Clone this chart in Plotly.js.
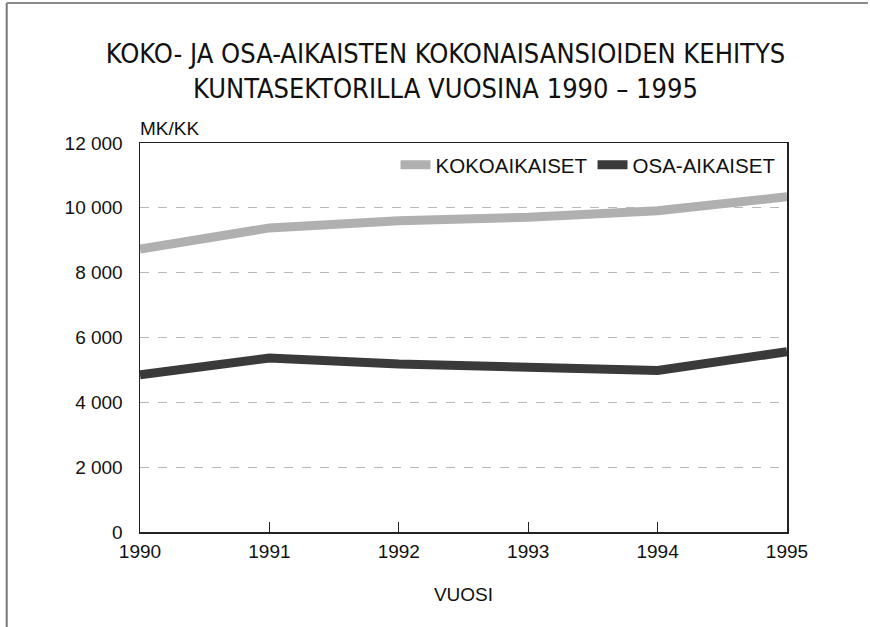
<!DOCTYPE html>
<html>
<head>
<meta charset="utf-8">
<script src="https://cdn.plot.ly/plotly-3.0.1.min.js"></script>
<style>html,body{margin:0;padding:0;background:#fff;}#chart{width:870px;height:627px;}</style>
</head>
<body>
<div id="chart"></div>
<script>
const years = [1990, 1991, 1992, 1993, 1994, 1995];
const kokoaikaiset = [8730, 9380, 9600, 9710, 9910, 10340];
const osaaikaiset = [4850, 5370, 5180, 5070, 4985, 5560];
const seriesNames = ['KOKOAIKAISET', 'OSA-AIKAISET'];
const yTicks = [0, 2000, 4000, 6000, 8000, 10000, 12000];
const titleText = 'KOKO- JA OSA-AIKAISTEN KOKONAISANSIOIDEN KEHITYS<br>KUNTASEKTORILLA VUOSINA 1990 – 1995';

const traces = [
  {x: years, y: kokoaikaiset, name: seriesNames[0], type: 'scatter', mode: 'lines',
   line: {color: '#b0b0b0', width: 9}},
  {x: years, y: osaaikaiset, name: seriesNames[1], type: 'scatter', mode: 'lines',
   line: {color: '#3a3a3a', width: 9}}
];

const tickFont = {family: 'Liberation Sans, Arial, sans-serif', size: 19, color: '#111'};
const legendFont = {family: 'Liberation Sans, Arial, sans-serif', size: 20.5, color: '#111'};

const layout = {
  width: 870, height: 627,
  margin: {l: 139.5, r: 82.5, t: 142.5, b: 94.5, pad: 0},
  paper_bgcolor: '#fff', plot_bgcolor: '#fff',
  separators: ', ',
  showlegend: true,
  title: {
    text: titleText,
    font: {family: 'Liberation Sans Narrow, DejaVu Sans Condensed, sans-serif', size: 27, color: '#111'},
    xref: 'container', yref: 'container', x: 0.512, y: 0.90, xanchor: 'center', yanchor: 'top'
  },
  legend: {
    orientation: 'h', x: 0.99, y: 0.995, xanchor: 'right', yanchor: 'top',
    bgcolor: 'rgba(0,0,0,0)', font: legendFont, itemwidth: 30, tracegroupgap: 0
  },
  xaxis: {
    range: [1990, 1995], tickvals: years, ticktext: years.map(String),
    ticks: 'inside', ticklen: 10, tickwidth: 1, tickcolor: '#222',
    showline: true, linecolor: '#222', linewidth: 1.5, mirror: true,
    showgrid: false, zeroline: false, tickfont: tickFont, ticklabelstandoff: 2,
    title: {text: 'VUOSI', font: tickFont, standoff: 26}
  },
  yaxis: {
    range: [0, 12000], tickvals: yTicks, tickformat: ',d',
    ticks: '', showline: true, linecolor: '#222', linewidth: 1.5, mirror: true,
    showgrid: true, gridcolor: '#b8b8b8', griddash: 'dash', gridwidth: 1,
    zeroline: false, tickfont: tickFont, ticklabelstandoff: 12
  },
  annotations: [
    {text: 'MK/KK', xref: 'paper', yref: 'paper', x: -0.003, y: 1.037, xanchor: 'left', yanchor: 'middle',
     showarrow: false, font: tickFont}
  ],
  shapes: [
    {type: 'line', xref: 'paper', yref: 'paper', x0: -0.206, x1: -0.206, y0: 1.36, y1: -0.245,
     line: {color: '#777', width: 2}},
    {type: 'line', xref: 'paper', yref: 'paper', x0: -0.206, x1: 1.125, y0: 1.36, y1: 1.36,
     line: {color: '#888', width: 2}}
  ]
};

Plotly.newPlot('chart', traces, layout, {staticPlot: true, displayModeBar: false});
</script>
</body>
</html>
